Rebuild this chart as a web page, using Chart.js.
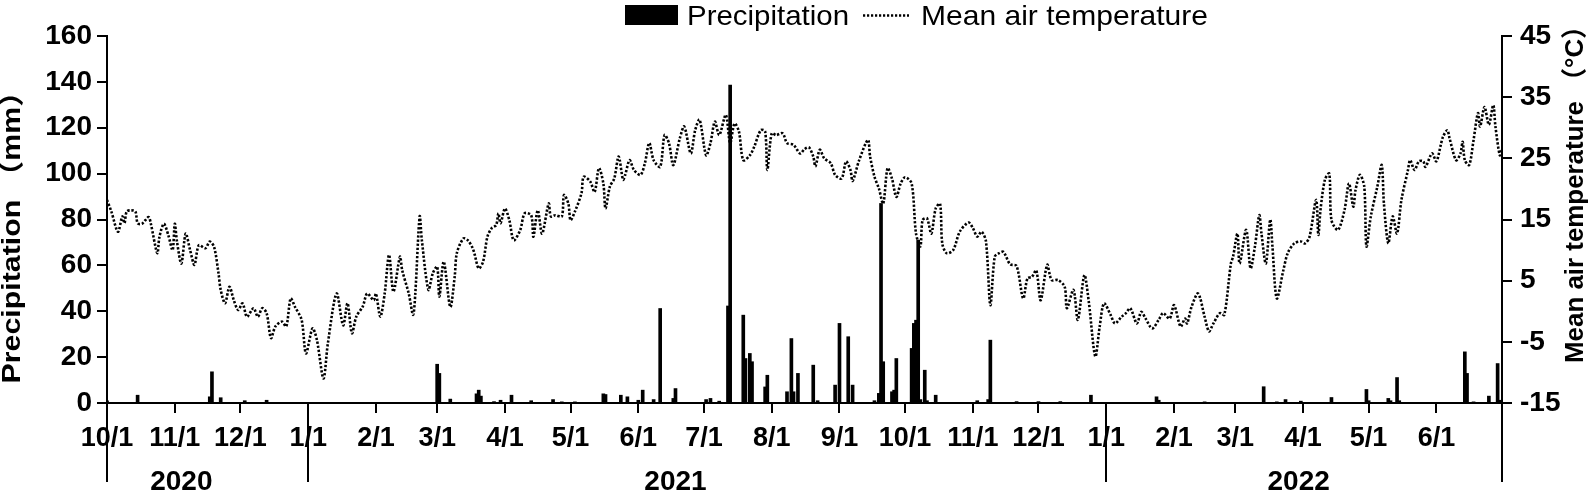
<!DOCTYPE html>
<html>
<head>
<meta charset="utf-8">
<script src="https://cdn.jsdelivr.net/npm/chart.js@4/dist/chart.umd.min.js"></script>
<style>
html,body{margin:0;padding:0;background:#fff;}
canvas{display:block;}
</style>
</head>
<body>
<canvas id="c" width="1595" height="499"></canvas>
<script>
// ---------------- DATA ----------------
const startDate = '2020-10-01';
const endDate = '2022-07-01';

// x tick labels (month starts) and their dates
const xTickDates = ['2020-10-01','2020-11-01','2020-12-01','2021-01-01','2021-02-01','2021-03-01','2021-04-01',
  '2021-05-01','2021-06-01','2021-07-01','2021-08-01','2021-09-01','2021-10-01','2021-11-01','2021-12-01',
  '2022-01-01','2022-02-01','2022-03-01','2022-04-01','2022-05-01','2022-06-01','2022-07-01'];
const xTickLabels = ['10/1','11/1','12/1','1/1','2/1','3/1','4/1','5/1','6/1','7/1','8/1','9/1','10/1','11/1','12/1',
  '1/1','2/1','3/1','4/1','5/1','6/1',''];
const yearLabels = ['2020','2021','2022'];

// Precipitation (mm): day index since 2020-10-01, daily amount
const precipDays = [
  0,14,47,48,52,63,73,151,152,157,
  169,170,171,177,180,185,194,204,208,214,
  227,228,235,238,243,245,250,253,259,260,
  274,276,280,284,285,291,292,294,295,301,
  302,311,313,314,316,323,325,333,335,339,
  341,351,353,354,355,359,360,361,368,369,
  370,371,372,374,375,379,398,403,404,416,
  426,436,450,480,481,502,529,535,539,546,
  560,576,577,586,587,590,591,621,622,625,
  632,636,637];
const precipValues = [
  1,3.4,2.7,13.6,2.3,1,1.2,16.9,12.9,1.7,
  4,5.6,3,0.6,1.2,3.4,1,1.5,0.5,0.5,
  4,3.7,3.4,2.7,1.2,5.6,1.5,41.2,2,6.3,
  1.5,2,0.8,42.3,138.6,38.3,19.4,21.6,18,7,
  12.1,4.9,28.1,4.9,12.9,16.5,1,7.8,34.7,28.9,
  7.8,1,4.2,87,18,4.9,5.6,19.4,23.8,34.7,
  36.1,71,1.5,14.3,1,3.4,1,1.5,27.4,0.6,
  0.6,0.6,3.4,2.7,1.2,0.5,7.1,0.5,1.5,0.8,
  2.4,5.9,1,2,1,11.1,1,22.3,12.9,0.5,
  3,17.2,1.2];

// Mean air temperature (°C): day index since 2020-10-01, value
const tempDays = [
  0,2,5,7,8,9,11,13,14,16,
  19,20,23,24,26,28,30,31,32,34,
  36,38,40,42,45,47,49,51,52,54,
  56,58,60,62,64,67,69,71,73,75,
  77,80,82,84,86,89,91,94,96,99,
  101,105,108,110,112,114,117,119,122,123,
  125,127,129,131,134,135,138,140,141,143,
  144,147,149,151,152,154,157,159,160,163,
  165,167,168,170,172,174,176,178,179,180,
  182,184,186,189,191,194,195,197,199,202,
  203,205,208,209,211,212,214,217,218,221,
  223,225,227,228,230,232,234,236,237,239,
  241,244,246,248,250,253,255,257,259,262,
  264,267,269,271,274,276,278,280,283,285,
  287,289,291,294,296,299,301,302,304,306,
  309,311,314,317,319,321,323,324,326,328,
  331,333,336,338,340,341,344,348,349,351,
  353,355,357,359,361,363,365,368,370,372,
  373,375,377,379,381,382,384,387,390,394,
  396,398,400,402,404,406,408,410,413,416,
  419,421,423,425,427,430,432,435,438,439,
  442,444,447,449,452,454,456,459,461,464,
  466,468,471,473,475,478,481,483,486,488,
  491,493,494,496,499,502,504,506,509,511,
  514,515,517,518,521,523,525,527,528,530,
  532,533,535,538,540,543,546,548,550,553,
  554,555,557,559,560,563,566,568,570,571,
  573,575,576,578,581,583,584,586,588,590,
  592,595,596,598,600,602,603,606,608,610,
  611,613,614,617,619,620,621,623,625,627,
  628,630,632,634,635,637,638];
const tempValues = [
  18.2,16.3,13.0,15.5,14.4,16.3,16.5,16.3,14.4,14.3,
  15.4,14.4,9.5,12.2,14.3,12.5,10.0,14.3,11.4,7.8,
  12.7,10.0,7.6,10.8,10.3,11.4,10.5,6.2,3.5,1.3,
  4.0,1.8,0.2,1.3,-0.9,0.5,-0.9,0.5,-0.3,-4.4,
  -2.5,-1.7,-2.5,2.1,0.7,-1.4,-6.9,-2.8,-4.7,-11.0,
  -5.3,2.9,-2.3,1.3,-3.6,-0.9,0.8,2.9,1.8,2.9,
  -0.9,2.9,9.2,3.2,8.9,6.7,2.9,-0.6,2.9,15.5,
  11.6,3.5,6.2,7.3,2.4,8.1,0.7,5.6,9.5,11.9,
  11.6,10.5,9.5,7.0,8.1,12.2,13.6,14.1,16.0,14.4,
  16.8,14.9,11.6,13.3,16.0,15.7,12.2,16.5,12.7,17.6,
  15.5,15.7,15.5,19.0,17.6,14.9,16.3,19.3,22.0,21.2,
  19.5,23.4,20.9,16.8,20.4,21.7,25.3,21.5,22.3,24.7,
  23.1,22.3,24.2,27.5,24.7,23.6,28.8,27.5,23.9,28.3,
  30.2,25.8,29.6,31.3,25.5,27.5,31.0,28.8,32.1,27.5,
  30.7,29.4,24.7,25.5,26.9,29.6,29.4,23.1,29.1,28.8,
  29.1,27.5,27.2,25.8,26.5,26.8,25.3,23.7,26.4,25.0,
  24.2,22.3,21.7,24.5,23.1,21.3,24.7,28.0,25.3,22.0,
  20.1,17.6,23.4,21.7,18.7,20.9,21.9,20.9,12.7,10.6,
  14.9,15.2,12.7,16.8,17.6,11.1,9.5,10.0,13.0,14.5,
  13.6,12.2,13.0,11.4,1.0,8.9,9.5,9.7,7.7,7.4,
  2.1,5.4,5.6,6.7,1.8,7.6,5.1,5.1,4.0,0.5,
  3.5,-1.4,5.9,1.6,-7.4,-2.5,1.3,-0.6,-2.0,-0.9,
  -0.3,0.5,-2.0,-0.1,-1.2,-2.8,-1.4,-0.3,-1.2,1.0,
  -2.5,-1.2,-2.0,0.7,2.9,-0.9,-3.3,-2.0,-0.3,-0.6,
  7.8,8.9,12.7,7.8,13.3,7.0,10.6,15.7,12.7,7.8,
  15.0,10.6,2.1,6.7,9.5,11.1,11.4,11.1,12.2,18.2,
  12.5,16.6,21.5,22.5,14.9,13.3,16.6,20.9,17.1,19.8,
  22.3,20.4,10.6,15.5,20.4,23.9,17.6,11.1,15.5,12.7,
  18.2,23.1,24.7,23.1,24.5,24.5,23.6,25.8,24.5,27.2,
  28.5,29.6,28.3,24.7,25.8,27.7,24.7,23.9,28.0,32.4,
  30.2,33.4,30.5,33.7,30.2,25.5,26.5];

const legendLabels = ['Precipitation', 'Mean air temperature'];
const yTitle = 'Precipitation （mm）';
const y1Title = 'Mean air temperature （°C）';

// ---------------- HELPERS ----------------
const FONT = '"Liberation Sans", Arial, "Noto Sans CJK SC", sans-serif';
const DAY = 86400000;
function dayIndex(s) { return Math.round((Date.parse(s) - Date.parse(startDate)) / DAY); }
const xTickDays = xTickDates.map(dayIndex);
const xMax = dayIndex(endDate);

function drawText(ctx, text, x, y, font, opts) {
  opts = opts || {};
  ctx.save();
  ctx.font = font;
  const w = ctx.measureText(text).width;
  const s = opts.len ? opts.len / w : 1;
  ctx.translate(x, y);
  ctx.rotate(opts.rot || 0);
  ctx.scale(s, 1);
  ctx.textAlign = opts.align || 'center';
  ctx.textBaseline = opts.baseline || 'middle';
  ctx.fillStyle = '#000';
  ctx.fillText(text, 0, 0);
  ctx.restore();
}

// ---------------- PLUGIN: legend, titles, year separators ----------------
const decor = {
  id: 'decor',
  afterDraw(chart) {
    const ctx = chart.ctx;
    const xs = chart.scales.x;
    const area = chart.chartArea;
    // legend
    ctx.save();
    ctx.fillStyle = '#000';
    ctx.fillRect(625, 5, 53, 20);
    ctx.strokeStyle = '#000';
    ctx.lineWidth = 2.4;
    ctx.setLineDash([2.2, 1.8]);
    ctx.beginPath(); ctx.moveTo(863, 15.5); ctx.lineTo(909, 15.5); ctx.stroke();
    ctx.restore();
    drawText(ctx, legendLabels[0], 687, 25, '28px ' + FONT, {align: 'left', baseline: 'alphabetic', len: 162});
    drawText(ctx, legendLabels[1], 921, 25, '28px ' + FONT, {align: 'left', baseline: 'alphabetic', len: 287});
    // axis titles
    drawText(ctx, yTitle, 13, 230, 'bold 26px ' + FONT, {rot: -Math.PI / 2, len: 307});
    drawText(ctx, y1Title, 1576, 188, 'bold 26px ' + FONT, {rot: -Math.PI / 2, len: 350});
    // year separators
    ctx.save();
    ctx.strokeStyle = '#000';
    ctx.lineWidth = 2;
    ['2020-10-01', '2021-01-01', '2022-01-01', endDate].forEach(d => {
      const px = Math.round(xs.getPixelForValue(dayIndex(d)));
      ctx.beginPath(); ctx.moveTo(px, area.bottom); ctx.lineTo(px, 482); ctx.stroke();
    });
    ctx.restore();
    // year labels
    ['2020-11-04', '2021-06-18', '2022-03-30'].forEach((d, i) => {
      drawText(ctx, yearLabels[i], xs.getPixelForValue(dayIndex(d)), 482, 'bold 28px ' + FONT);
    });
  }
};

// ---------------- CHART ----------------
const xTickFont = {family: FONT, size: 27, weight: 'bold'};
const yTickFont = {family: FONT, size: 28, weight: 'bold'};
new Chart(document.getElementById('c'), {
  data: {
    datasets: [
      {
        type: 'line',
        label: legendLabels[1],
        data: tempDays.map((d, i) => ({x: d, y: tempValues[i]})),
        yAxisID: 'y1',
        borderColor: '#000',
        borderWidth: 2.6,
        borderDash: [2.3, 1.8],
        borderCapStyle: 'butt',
        pointRadius: 0,
        tension: 0.3,
        fill: false,
        order: 0
      },
      {
        type: 'bar',
        label: legendLabels[0],
        data: precipDays.map((d, i) => ({x: d, y: precipValues[i]})),
        yAxisID: 'y',
        backgroundColor: '#000',
        borderWidth: 0,
        barThickness: 3,
        order: 1
      }
    ]
  },
  options: {
    responsive: false,
    animation: false,
    layout: {padding: {top: 36, left: 0, right: 0, bottom: 0}},
    plugins: {legend: {display: false}, tooltip: {enabled: false}},
    scales: {
      x: {
        type: 'linear',
        min: 0,
        max: xMax,
        offset: false,
        afterBuildTicks: s => { s.ticks = xTickDays.map(v => ({value: v})); },
        afterFit: s => { s.height = 96; },
        ticks: {
          autoSkip: false, maxRotation: 0, minRotation: 0,
          font: xTickFont, color: '#000', padding: 9,
          callback: (v, i) => xTickLabels[i]
        },
        grid: {drawOnChartArea: false, drawTicks: true, tickLength: 10, color: '#000', lineWidth: 2, offset: false},
        border: {display: true, color: '#000', width: 2}
      },
      y: {
        type: 'linear',
        position: 'left',
        min: 0, max: 160,
        afterFit: s => { s.width = 107; },
        ticks: {stepSize: 20, font: yTickFont, color: '#000', padding: 5},
        grid: {drawOnChartArea: false, drawTicks: true, tickLength: 10, color: '#000', lineWidth: 2},
        border: {display: true, color: '#000', width: 2}
      },
      y1: {
        type: 'linear',
        position: 'right',
        min: -15, max: 45,
        afterFit: s => { s.width = 93; },
        ticks: {stepSize: 10, font: yTickFont, color: '#000', padding: 8},
        grid: {drawOnChartArea: false, drawTicks: true, tickLength: 10, color: '#000', lineWidth: 2},
        border: {display: true, color: '#000', width: 2}
      }
    }
  },
  plugins: [decor]
});
</script>
</body>
</html>
